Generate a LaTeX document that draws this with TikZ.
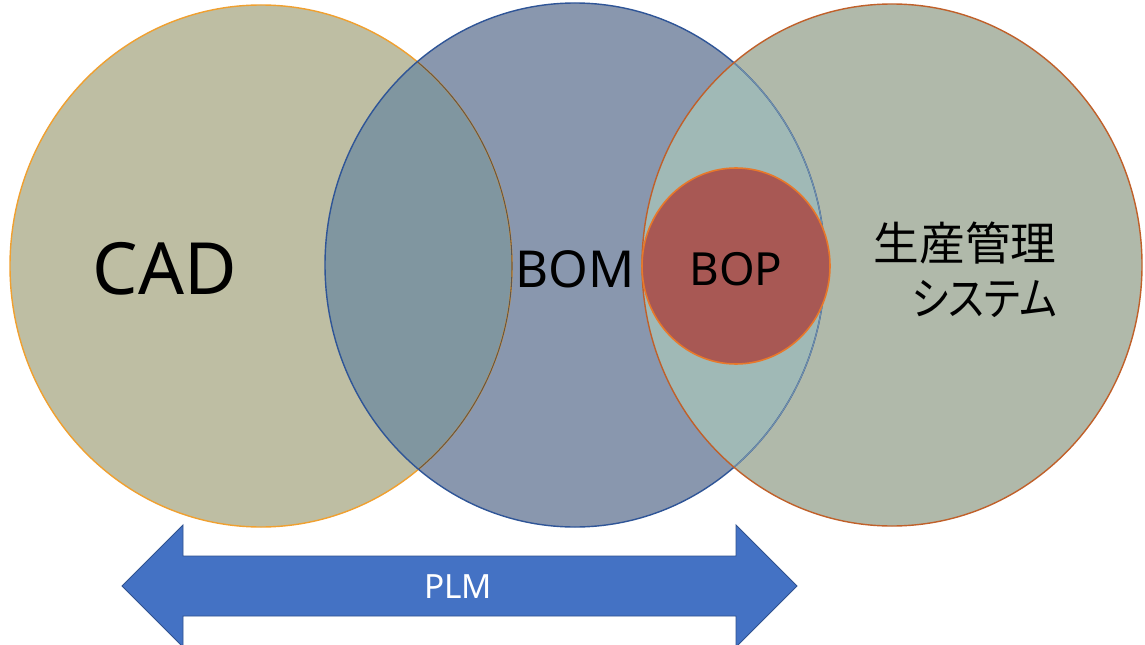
\documentclass[tikz,border=0pt]{standalone}
\usepackage{fontspec}
\setmainfont{Noto Sans}
\newfontfamily\jpfont{Noto Sans CJK JP}
\newfontfamily\jpkanafont[RawFeature=+palt]{Noto Sans CJK JP}
\usepackage{graphicx}
\usepackage{xcolor}

\definecolor{cadfill}{HTML}{BEBEA3}
\definecolor{cadline}{HTML}{F0A030}
\definecolor{bomfill}{HTML}{8997AE}
\definecolor{bomline}{HTML}{2F5597}
\definecolor{prodfill}{HTML}{B0B9AA}
\definecolor{prodline}{HTML}{C0602A}
\definecolor{cadbomfill}{HTML}{8096A0}
\definecolor{bomprodfill}{HTML}{A0B9B6}
\definecolor{bopfill}{HTML}{A85854}
\definecolor{bopline}{HTML}{E8782A}
\definecolor{plmblue}{HTML}{4472C4}
\definecolor{plmline}{HTML}{2F528F}

\newcommand{\cadpath}{(261,266) ellipse [x radius=251, y radius=261]}
\newcommand{\bompath}{(575,265) ellipse [x radius=250, y radius=262]}
\newcommand{\prodpath}{(892,265) ellipse [x radius=250, y radius=261]}

\tikzset{
  circlabel/.style={text=black, inner sep=0pt},
}

\begin{document}
\begin{tikzpicture}[x=0.02cm, y=-0.02cm]

    \clip (0,0) rectangle (1145,645);
    \fill[white] (0,0) rectangle (1145,645);

    % The three big circles
    \fill[cadfill] \cadpath;
    \fill[bomfill] \bompath;
    \fill[prodfill] \prodpath;

    % Overlaps
    \begin{scope}
        \clip \cadpath;
        \fill[cadbomfill] \bompath;
    \end{scope}
    \begin{scope}
        \clip \bompath;
        \fill[bomprodfill] \prodpath;
    \end{scope}

    % Borders
    \draw[cadline, line width=0.8pt] \cadpath;
    \begin{scope}
        \clip \bompath;
        \draw[cadline!50!bomline!70!black, line width=0.6pt] \cadpath;
    \end{scope}
    \draw[bomline, line width=0.8pt] \bompath;
    \begin{scope}
        \clip \prodpath;
        \draw[bomline!40!bomprodfill, line width=0.6pt] \bompath;
    \end{scope}
    \draw[prodline, line width=0.8pt] \prodpath;

    % BOP in the middle of the right overlap
    \draw[fill=bopfill, draw=bopline, line width=0.9pt] (736,266) ellipse [x radius=94, y radius=98];

    % Labels
    \node[circlabel, font=\fontsize{41}{48}\selectfont] (cad) at (165,269) {CAD};
    \node[circlabel, font=\fontsize{29}{35}\selectfont] (bom) at (575,269) {BOM};
    \node[circlabel, font=\fontsize{26}{31}\selectfont] (bop) at (736,269) {BOP};
    \node[circlabel, anchor=east, align=right, font=\jpfont\fontsize{26}{31}\selectfont] (prod) at (1057,270) {生産管理\\\scalebox{0.87}[1]{\jpkanafont システム}};

    % PLM arrow
    \draw[fill=plmblue, draw=plmline, line width=0.5pt]
        (122,586) -- (183,525) -- (183,556) -- (736,556) -- (736,525) -- (797,586)
        -- (736,647) -- (736,616) -- (183,616) -- (183,647) -- cycle;
    \node[text=white, font=\fontsize{19}{23}\selectfont] (plm) at (458,587) {PLM};

\end{tikzpicture}
\end{document}
